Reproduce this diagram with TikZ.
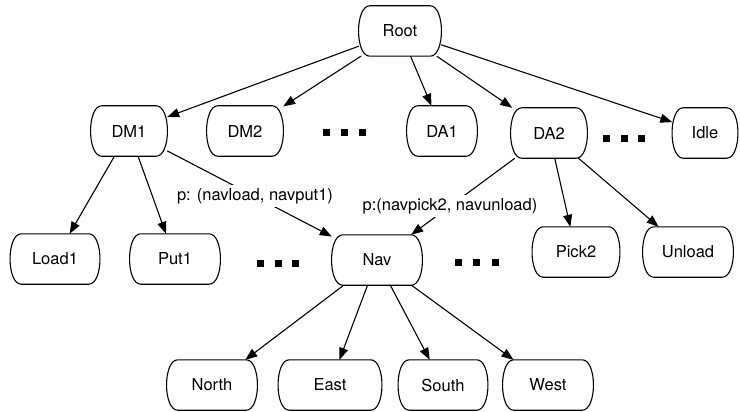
\documentclass[tikz,border=0pt]{standalone}
\usepackage{fontspec}
\setmainfont{TeX Gyre Heros}
\usetikzlibrary{arrows.meta}
\begin{document}
\begin{tikzpicture}[x=1pt, y=-1pt,
  box/.style={rectangle, minimum height=50pt, inner sep=0pt,
    font=\fontsize{16.5}{19}\selectfont},
  outline/.style={line width=1.1pt, black},
  link/.style={line width=1.1pt, -{Triangle[length=12pt,width=9pt]}},
  lbl/.style={fill=white, inner sep=3pt, font=\fontsize{16.5}{19}\selectfont},
  dot/.style={fill=black, minimum size=7pt, inner sep=0pt}]
\useasboundingbox (0,0) rectangle (740,412);

% states
\node[box, minimum width=82pt]  (Root)   at (400,31)  {Root};
\node[box, minimum width=76pt]  (DM1)    at (129,131) {DM1};
\node[box, minimum width=76pt]  (DM2)    at (245,131) {DM2};
\node[box, minimum width=70pt]  (DA1)    at (442,131) {DA1};
\node[box, minimum width=76pt]  (DA2)    at (549,133) {DA2};
\node[box, minimum width=65pt]  (Idle)   at (705,133) {Idle};
\node[box, minimum width=89pt]  (Load1)  at (55,259)  {Load1};
\node[box, minimum width=90pt]  (Put1)   at (175,259) {Put1};
\node[box, minimum width=90pt]  (Nav)    at (377,260) {Nav};
\node[box, minimum width=87pt]  (Pick2)  at (576,252) {Pick2};
\node[box, minimum width=90pt]  (Unload) at (688,252) {Unload};
\node[box, minimum width=90pt]  (North)  at (212,385) {North};
\node[box, minimum width=103pt] (East)   at (330,385) {East};
\node[box, minimum width=89pt]  (South)  at (443,385) {South};
\node[box, minimum width=90pt]  (West)   at (548,385) {West};

% rounded outlines
\foreach \n in {Root,DM1,DM2,DA1,DA2,Idle,Load1,Put1,Nav,Pick2,Unload,North,East,South,West} {
  \draw[outline] ([xshift=11pt]\n.north west) -- ([xshift=-11pt]\n.north east)
    .. controls ([xshift=4pt]\n.north east) and ([xshift=4pt]\n.south east) .. ([xshift=-11pt]\n.south east)
    -- ([xshift=11pt]\n.south west)
    .. controls ([xshift=-4pt]\n.south west) and ([xshift=-4pt]\n.north west) .. cycle;
}

% ellipsis marks
\node[dot] (e1) at (326,133) {};
\node[dot] (e2) at (344,133) {};
\node[dot] (e3) at (362,133) {};
\node[dot] (f1) at (606,139) {};
\node[dot] (f2) at (624,139) {};
\node[dot] (f3) at (641,139) {};
\node[dot] (g1) at (260,263) {};
\node[dot] (g2) at (278,263) {};
\node[dot] (g3) at (295,263) {};
\node[dot] (h1) at (458,262) {};
\node[dot] (h2) at (476,262) {};
\node[dot] (h3) at (495,262) {};

% transitions
\draw[link] (Root) -- (DM1);
\draw[link] (Root) -- (DM2);
\draw[link] (Root) -- (DA1);
\draw[link] (Root) -- (DA2);
\draw[link] (Root) -- (Idle);
\draw[link] (DM1) -- (Load1);
\draw[link] (DM1) -- (Put1);
\draw[link] (DM1) -- (Nav);
\draw[link] (DA2) -- (Nav);
\draw[link] (DA2) -- (Pick2);
\draw[link] (DA2) -- (Unload);
\draw[link] (Nav) -- (North);
\draw[link] (Nav) -- (East);
\draw[link] (Nav) -- (South);
\draw[link] (Nav) -- (West);

% parameter labels
\node[lbl] (p1) at (255,196) {p: (navload, navput1)};
\node[lbl] (p2) at (450,206) {p:(navpick2, navunload)};
\end{tikzpicture}
\end{document}
